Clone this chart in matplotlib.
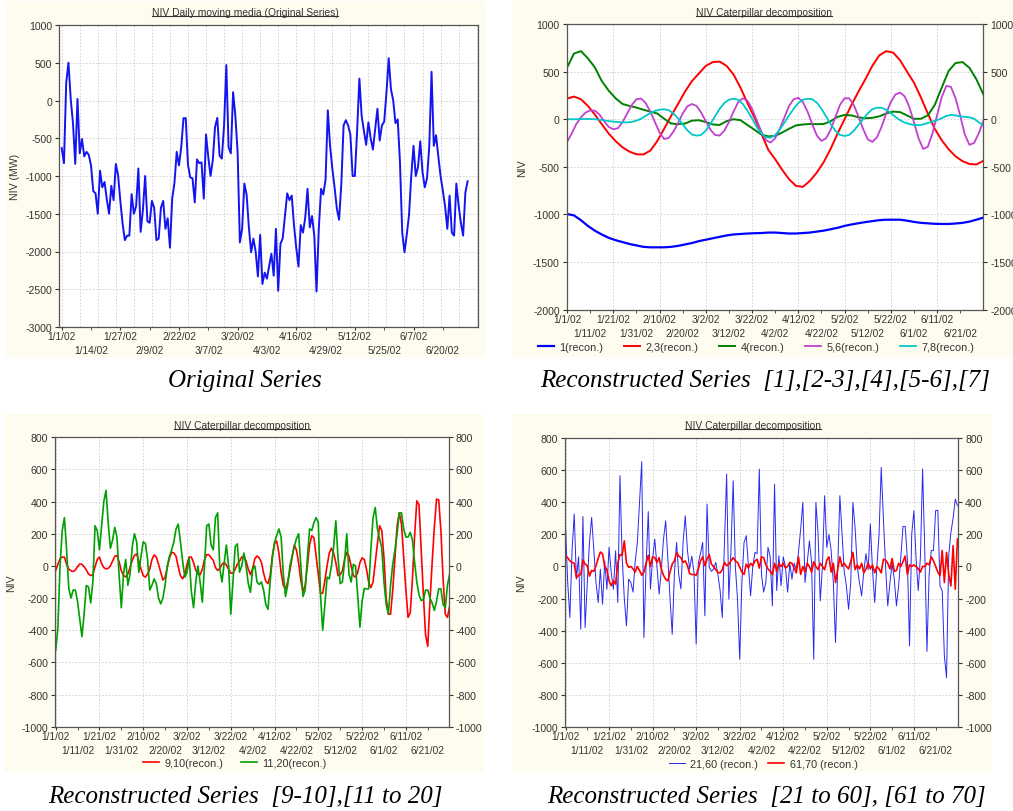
import matplotlib
matplotlib.use('Agg')
import matplotlib.pyplot as plt
from matplotlib.patches import Rectangle
from matplotlib.lines import Line2D
import numpy as np

plt.rcParams['font.family'] = ['Liberation Sans', 'DejaVu Sans']
plt.rcParams['axes.unicode_minus'] = False

# ---------------- DATA ----------------
# Panel 1: original series, daily 1/1/02 .. 6/30/02 (day index 0..180)
niv_original = [
    -630, -830, 240, 500, 20, -300, -840, 20, -700, -510,
    -740, -680, -720, -860, -1200, -1230, -1500, -930, -1150, -1080,
    -1310, -1500, -1130, -1320, -840, -990, -1330, -1630, -1850, -1790,
    -1790, -1240, -1500, -1400, -900, -1740, -1450, -1000, -1600, -1620,
    -1330, -1420, -1850, -1830, -1420, -1330, -1700, -1560, -1950, -1300,
    -1090, -680, -860, -620, -234, -234, -850, -1020, -1030, -1350,
    -780, -830, -820, -1300, -450, -750, -1000, -790, -350, -230,
    -730, -770, -330, 470, -620, -700, 110, -200, -680, -1880,
    -1700, -1100, -1250, -1680, -2010, -1830, -2000, -2330, -1780, -2430,
    -2280, -2360, -2190, -2030, -2320, -1700, -2520, -1900, -1825, -1520,
    -1230, -1320, -1260, -1650, -1950, -2200, -1650, -1750, -1550, -1170,
    -1680, -1530, -1790, -2530, -1700, -1170, -1245, -1050, -130, -600,
    -900, -1150, -1430, -1580, -1100, -330, -260, -330, -450, -1000,
    -1000, -400, 290, -200, -400, -588, -290, -500, -650, -380,
    -110, -530, -330, -280, 100, 560, 150, 0, -300, -250,
    -820, -1750, -2010, -1780, -1520, -1000, -600, -1000, -880, -540,
    -950, -1150, -1030, -600, 380, -600, -460, -740, -1000, -1193,
    -1400, -1700, -1260, -1750, -1790, -1100, -1390, -1620, -1790, -1220,
    -1070,
]

# Panel 2: smooth reconstructed components
days_step3 = list(range(0, 181, 3))
days_step2 = list(range(0, 181, 2))
rec_1 = [-995, -1010, -1060, -1120, -1170, -1210, -1245, -1270, -1290, -1310,
         -1325, -1340, -1345, -1345, -1345, -1340, -1330, -1315, -1300, -1280,
         -1265, -1250, -1235, -1220, -1210, -1205, -1200, -1197, -1195, -1190,
         -1190, -1195, -1200, -1200, -1195, -1190, -1180, -1170, -1155, -1140,
         -1120, -1105, -1092, -1080, -1070, -1060, -1055, -1055, -1055, -1065,
         -1078, -1088, -1093, -1098, -1100, -1100, -1095, -1088, -1075, -1055,
         -1033]
rec_23 = [217, 238, 210, 140, 50, -52, -150, -230, -295, -340,
          -368, -370, -330, -230, -100, 35, 160, 290, 400, 480,
          560, 600, 605, 560, 470, 332, 170, 20, -150, -320,
          -420, -530, -630, -700, -710, -648, -560, -450, -310, -150,
          0, 150, 290, 420, 560, 670, 715, 700, 620, 500,
          385, 230, 60, -100, -220, -315, -390, -440, -470, -475,
          -437]
rec_4 = [542, 690, 715, 640, 545, 402, 300, 220, 160, 140,
         122, 100, 80, 60, 5, -45, -52, -45, -15, -10,
         -30, -55, -60, -20, 0, -10, -60, -110, -160, -180,
         -175, -140, -100, -65, -55, -50, -52, -50, -20, 25,
         45, 40, 20, 10, 15, 30, 60, 80, 75, 40,
         5, 5, 40, 150, 330, 507, 590, 600, 540, 420,
         262]
rec_56 = [-238, -150, -50, 20, 70, 93, 90, 50, -20, -80,
          -105, -95, -30, 60, 150, 210, 218, 170, 80, -30,
          -140, -208, -195, -130, -40, 60, 135, 160, 140, 70,
          -20, -110, -165, -172, -120, -30, 80, 180, 220, 195,
          110, -10, -130, -220, -245, -200, -100, 20, 140, 210,
          225, 180, 80, -50, -170, -228, -200, -110, 20, 150,
          220, 220, 150, 30, -100, -210, -238, -190, -80, 60,
          180, 260, 280, 240, 130, -30, -200, -312, -290, -150,
          40, 230, 350, 340, 220, 40, -160, -268, -250, -150,
          -20]
rec_78 = [0, 0, 0, 2, 3, 2, 0, -5, -12, -20,
          -25, -30, -33, -33, -28, -15, 5, 35, 65, 88,
          100, 105, 95, 60, 10, -55, -115, -160, -172, -165,
          -120, -50, 30, 110, 170, 205, 215, 205, 160, 90,
          10, -80, -150, -190, -195, -165, -110, -35, 40, 110,
          170, 205, 215, 210, 175, 110, 30, -50, -120, -165,
          -175, -165, -120, -60, 0, 60, 105, 122, 120, 100,
          65, 25, -10, -35, -50, -60, -63, -55, -40, -25,
          -10, 10, 35, 45, 40, 30, 25, 20, 5, -30,
          -65]

# Panel 3
rec_910 = [
    -29, 10, 45, 55, 55, 10, -20, -30, -35, -25,
    -5, 12, 10, -5, -25, -50, -60, -55, -5, 40,
    55, 15, -10, -19, -15, 0, 30, 60, 65, 25,
    -30, -60, -68, -50, -10, 35, 65, 75, 30, -20,
    -60, -70, -50, -20, 40, 68, 55, 10, -40, -88,
    -70, -10, 50, 85, 80, 60, -5, -60, -80, -55,
    10, 55, 55, 20, -25, -50, -55, -20, 40, 70,
    70, 50, 35, -10, -28, -15, 10, 22, 5, -20,
    -45, -45, -20, 10, 30, 55, 58, 30, -20, -55,
    -15, 45, 62, 50, 22, -45, -95, -110, -60, 62,
    140, 155, 80, -40, -120, -143, -100, -30, 50, 130,
    100, 20, -90, -160, -120, 0, 130, 188, 175, 60,
    -60, -170, -170, -90, 0, 80, 110, 80, 20, -60,
    -55, -30, 40, 85, 60, 0, -60, -70, -40, 20,
    50, 40, -20, -100, -135, -100, 20, 140, 250, 220,
    50, -200, -300, -300, -150, 50, 250, 330, 260, 60,
    -150, -320, -290, -80, 190, 405, 380, 100, -180, -430,
    -500, -220, 20, 240, 416, 410, 220, -80, -300, -320,
    -250,
]
rec_1120 = [
    -526, -390, 0, 220, 300, 100, -140, -200, -150, -150,
    -220, -330, -440, -300, -122, -130, -230, -100, 250, 220,
    100, 250, 400, 470, 270, 110, 160, 240, 180, -60,
    -260, -50, 40, -120, -50, 120, 200, 150, -40, 60,
    150, 140, 40, -150, -120, -81, -110, -200, -236, -200,
    -120, 0, 60, 100, 150, 230, 260, 150, 30, -70,
    -40, 50, -160, -260, -100, 0, -100, -226, 0, 250,
    261, 130, 100, 300, 330, -20, -100, 20, 130, 0,
    -300, -100, 120, 137, -39, 0, 80, 0, -110, -164,
    -20, 0, -100, -115, -100, -150, -240, -270, -100, 50,
    147, 190, 230, 180, -50, -190, -120, 0, 60, 120,
    170, 200, 0, -190, -150, 50, 230, 220, 270, 300,
    270, -184, -400, -240, -70, -80, 0, 120, 280, 50,
    -110, -100, 30, 200, -50, -100, 10, 0, -184, -380,
    -220, -140, -143, -143, 100, 300, 364, 230, 168, 110,
    -100, -240, -298, -120, 10, 100, 200, 330, 330, 230,
    180, 180, 209, 160, 20, -100, -180, -215, -210, -150,
    -150, -200, -230, -277, -220, -143, -143, -240, -260, -120,
    -50,
]

# Panel 4
rec_2160 = [
    254, -100, -319, 100, 327, -79, 60, -392, 312, -381,
    -100, 150, 306, 100, -100, -225, -17, -235, 35, -142,
    120, -40, -142, 98, -225, 567, 65, -200, -371, -79,
    -100, -160, 30, 150, 400, 654, -444, 0, 342, -142,
    50, 171, 0, -173, -20, 170, 285, 50, -200, -423,
    -50, 150, -50, -140, 150, 317, 100, -17, 65, -38,
    -485, 25, 80, 150, -308, 390, -6, -30, -17, 25,
    -50, -150, -319, 150, 577, -204, 100, 535, 0, -204,
    -579, -100, 150, 192, 0, -183, 0, 88, 80, 608,
    -50, -160, -100, 120, 60, -246, 514, -150, 67, -120,
    60, 0, -160, 20, -80, 20, -20, 88, 233, 400,
    -100, 20, 160, 30, -579, 400, 200, -215, 0, 442,
    120, 200, 100, -100, -475, -20, 442, 200, -30, -120,
    -267, -100, 400, 240, 0, -100, -183, -30, 80, -20,
    265, -20, -225, 0, 200, 619, 300, 0, -246, -100,
    20, -80, -246, -120, 60, 250, 250, 50, -496, 200,
    348, 50, -150, 60, 608, 100, -530, -50, 100, 100,
    350, 350, -121, -150, -558, -694, 70, 212, 300, 421,
    379,
]
rec_6170 = [
    67, 55, 35, 25, 20, -70, -55, -50, 40, 15,
    5, -60, -25, -30, 5, 50, 90, 80, 0, -20,
    -90, -120, -90, -110, 20, 75, 70, 160, 20, -5,
    0, -15, -35, 0, -25, -55, -35, 20, 70, 0,
    60, 55, 25, 55, -15, -55, -80, -90, -35, 15,
    35, 85, 65, 55, 25, 35, 5, -45, -50, -50,
    -55, -15, 35, 60, 5, 45, 75, 15, 0, -20,
    -38, -40, -20, 25, 5, 15, 35, 55, 35, 25,
    -5, -35, -50, 15, -10, 20, 5, 35, 45, -10,
    60, 55, 10, -15, -30, -50, 20, -30, 20, 0,
    20, -10, 0, 25, 20, -10, -40, 60, -50, 0,
    -35, 20, 0, -35, 30, 0, -20, 20, 0, -20,
    40, 60, -35, 20, -100, -20, 60, 0, 20, 0,
    -15, 30, 88, -20, 10, -15, 20, -40, -15, 20,
    -15, 10, -40, 0, -15, -40, 45, 40, 20, -15,
    50, -30, -25, 20, 0, 30, 65, -50, 10, 0,
    10, 0, -15, -35, 0, 0, 20, 10, 60, 35,
    0, -35, -58, 100, -100, 88, -50, -121, 129, -142,
    171,
]

labels_13 = ['1/1/02', '1/14/02', '1/27/02', '2/9/02', '2/22/02', '3/7/02', '3/20/02',
             '4/3/02', '4/16/02', '4/29/02', '5/12/02', '5/25/02', '6/7/02', '6/20/02']
labels_10 = ['1/1/02', '1/11/02', '1/21/02', '1/31/02', '2/10/02', '2/20/02', '3/2/02',
             '3/12/02', '3/22/02', '4/2/02', '4/12/02', '4/22/02', '5/2/02', '5/12/02',
             '5/22/02', '6/1/02', '6/11/02', '6/21/02']

# ---------------- FIGURE ----------------
W, H = 1013, 812
fig = plt.figure(figsize=(W / 100, H / 100), dpi=100)


def fx(px):
    return px / W


def fy(py):
    return 1 - py / H


BG = '#FEFCEE'
for (x0, y0, x1, y1) in [(5, 2, 485, 358), (512, 0, 1013, 358),
                         (4, 415, 484, 773), (512, 415, 992, 773)]:
    fig.patches.append(Rectangle((fx(x0), fy(y1)), (x1 - x0) / W, (y1 - y0) / H,
                                 transform=fig.transFigure, facecolor=BG,
                                 edgecolor='none', zorder=-10))

GRID = dict(color='#CDCDCD', linestyle=(0, (2, 2)), linewidth=0.6)
TXT = '#333333'


def make_axes(px_left, px_top, px_right, px_bottom):
    return fig.add_axes([fx(px_left), fy(px_bottom), (px_right - px_left) / W,
                         (px_bottom - px_top) / H])


def style(ax, xlim, ylim, ystep, step, labels, ylabel, right=True, xgrid=True):
    ax.set_xlim(*xlim)
    ax.set_ylim(*ylim)
    ax.set_yticks(np.arange(ylim[0], ylim[1] + 1, ystep))
    row1 = [i * step for i in range(0, len(labels), 2)]
    row2 = [i * step for i in range(1, len(labels), 2)]
    ax.set_xticks(row1)
    ax.set_xticklabels(labels[0::2])
    ax.set_xticks(row2, minor=True)
    ax.set_xticklabels(labels[1::2], minor=True)
    ax.grid(False)
    if xgrid:
        ax.grid(True, which='major', axis='x', **GRID)
    ax.grid(True, which='major', axis='y', **GRID)
    ax.tick_params(axis='x', which='major', length=2, labelsize=7.3, pad=1, colors=TXT)
    ax.tick_params(axis='x', which='minor', length=2, labelsize=7.3, pad=11, colors=TXT)
    ax.tick_params(axis='y', which='major', length=3, labelsize=7.6, pad=2, colors=TXT,
                   right=right, labelright=right)
    for s in ax.spines.values():
        s.set_color('#555555')
        s.set_linewidth(0.9)
    ax.set_ylabel(ylabel, fontsize=7.6, color=TXT, labelpad=4)


titles = []
LEG = dict(frameon=False, fontsize=7.8, handlelength=1.5, handletextpad=0.5, labelcolor=TXT)

# Panel 1 (grid axis behind for the 8-day vertical grid)
gax = make_axes(59, 26, 478, 328)
gax.set_xlim(-1.2, 184.6)
gax.set_ylim(-3000, 1000)
gax.set_xticks(range(0, 185, 8))
gax.set_yticks([])
gax.tick_params(axis='x', length=0, labelbottom=False)
gax.grid(True, axis='x', **GRID)
gax.set_facecolor('white')
for s in gax.spines.values():
    s.set_visible(False)

ax1 = make_axes(59, 26, 478, 328)
ax1.plot(range(len(niv_original)), niv_original, color='#1414F0', lw=1.4)
style(ax1, (-1.2, 184.6), (-3000, 1000), 500, 13, labels_13, 'NIV (MW)',
      right=False, xgrid=False)
ax1.set_facecolor('none')
titles.append(fig.text(fx(245), fy(13), 'NIV Daily moving media (Original Series)',
                       ha='center', va='center', fontsize=7.4, color=TXT))

# Panel 2
ax2 = make_axes(566.7, 25, 983.3, 310.7)
h1, = ax2.plot(days_step3, rec_1, color='#0000FF', lw=1.6, label='1(recon.)')
h2, = ax2.plot(days_step3, rec_23, color='#FF0000', lw=1.4, label='2,3(recon.)')
h3, = ax2.plot(days_step3, rec_4, color='#008000', lw=1.4, label='4(recon.)')
h4, = ax2.plot(days_step2, rec_56, color='#C040D0', lw=1.3, label='5,6(recon.)')
h5, = ax2.plot(days_step2, rec_78, color='#00C8C8', lw=1.3, label='7,8(recon.)')
style(ax2, (-0.15, 180), (-2000, 1000), 500, 10, labels_10, 'NIV')
ax2.set_facecolor('white')
titles.append(fig.text(fx(764), fy(13), 'NIV Caterpillar decomposition',
                       ha='center', va='center', fontsize=7.4, color=TXT))
fig.legend(handles=[h1, h2, h3, h4, h5], loc='center', bbox_to_anchor=(fx(756), fy(348)),
           ncol=5, columnspacing=1.9, **LEG)

# Panel 3
ax3 = make_axes(55, 438.3, 449, 727.7)
days = list(range(len(rec_910)))
h6, = ax3.plot(days, rec_910, color='#FF0000', lw=1.2, label='9,10(recon.)')
h7, = ax3.plot(days, rec_1120, color='#00A000', lw=1.2, label='11,20(recon.)')
style(ax3, (-0.3, 179.7), (-1000, 800), 200, 10, labels_10, 'NIV')
ax3.set_facecolor('white')
titles.append(fig.text(fx(242), fy(426), 'NIV Caterpillar decomposition',
                       ha='center', va='center', fontsize=7.4, color=TXT))
fig.legend(handles=[h6, h7], loc='center', bbox_to_anchor=(fx(235), fy(764)),
           ncol=2, columnspacing=1.6, **LEG)

# Panel 4
ax4 = make_axes(565.3, 439.3, 958.3, 727.7)
days4 = list(range(len(rec_2160)))
h8, = ax4.plot(days4, rec_2160, color='#2828F0', lw=0.7, label='21,60 (recon.)')
h9, = ax4.plot(days4, rec_6170, color='#FF0000', lw=1.2, label='61,70 (recon.)')
style(ax4, (-0.1, 180.4), (-1000, 800), 200, 10, labels_10, 'NIV')
ax4.set_facecolor('white')
titles.append(fig.text(fx(753), fy(426), 'NIV Caterpillar decomposition',
                       ha='center', va='center', fontsize=7.4, color=TXT))
fig.legend(handles=[h8, h9], loc='center', bbox_to_anchor=(fx(763), fy(765)),
           ncol=2, columnspacing=0.9, **LEG)

# Captions
cap_kw = dict(ha='center', va='center', fontsize=18, style='italic',
              family=['Liberation Serif', 'DejaVu Serif'], color='black')
fig.text(fx(245), fy(381), 'Original Series', **cap_kw)
fig.text(fx(765), fy(381), 'Reconstructed Series  [1],[2-3],[4],[5-6],[7]', **cap_kw)
fig.text(fx(245), fy(797), 'Reconstructed Series  [9-10],[11 to 20]', **cap_kw)
fig.text(fx(767), fy(797), 'Reconstructed Series  [21 to 60], [61 to 70]', **cap_kw)

# underline titles
fig.canvas.draw()
r = fig.canvas.get_renderer()
inv = fig.transFigure.inverted()
for t in titles:
    bb = t.get_window_extent(renderer=r)
    (x0, y0), (x1, _) = inv.transform([(bb.x0, bb.y0), (bb.x1, bb.y0)])
    fig.add_artist(Line2D([x0, x1], [y0 + 1.0 / H, y0 + 1.0 / H], transform=fig.transFigure,
                          color=TXT, lw=0.8))

fig.savefig('out.png', dpi=100)
